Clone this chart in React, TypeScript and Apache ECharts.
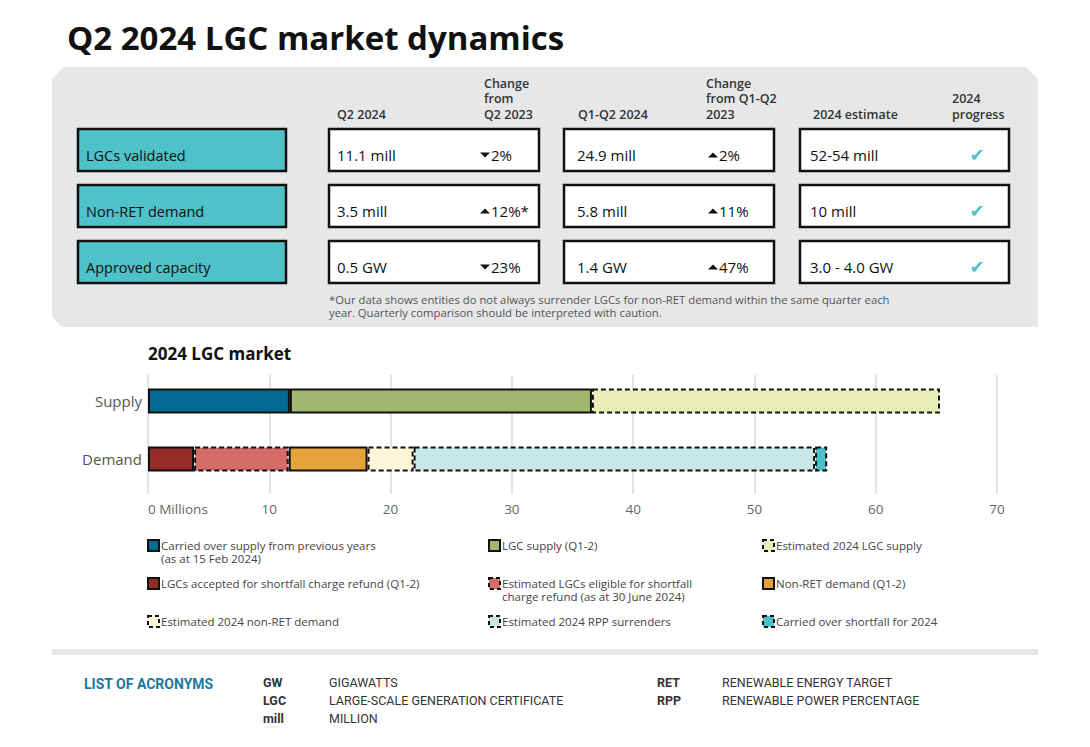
import React, { useEffect, useRef } from "react";
import * as echarts from "echarts";

// ---------- Data ----------
const categories = ["Supply", "Demand"];
const supplyCarriedOver = [11.7, null];
const supplyQ12 = [24.9, null];
const supplyEstimated = [28.7, null];
const demandShortfallAccepted = [null, 3.8];
const demandShortfallEligible = [null, 7.8];
const demandNonRetQ12 = [null, 6.5];
const demandNonRetEstimated = [null, 3.8];
const demandRppEstimated = [null, 33.1];
const demandCarriedShortfall = [null, 1.0];
const xTicks = [0, 10, 20, 30, 40, 50, 60, 70];

const metricLabels = ["LGCs validated", "Non-RET demand", "Approved capacity"];
const q2Values = ["11.1 mill", "3.5 mill", "0.5 GW"];
const q2ChangeDir = ["down", "up", "down"];
const q2ChangeText = ["2%", "12%*", "23%"];
const h1Values = ["24.9 mill", "5.8 mill", "1.4 GW"];
const h1ChangeDir = ["up", "up", "up"];
const h1ChangeText = ["2%", "11%", "47%"];
const estimates = ["52-54 mill", "10 mill", "3.0 - 4.0 GW"];

const acronymsLeft = [
  ["GW", "GIGAWATTS"],
  ["LGC", "LARGE-SCALE GENERATION CERTIFICATE"],
  ["mill", "MILLION"],
];
const acronymsRight = [
  ["RET", "RENEWABLE ENERGY TARGET"],
  ["RPP", "RENEWABLE POWER PERCENTAGE"],
];

const FONT = "'Open Sans', 'Noto Sans', sans-serif";
const COND = "Roboto, 'Noto Sans', sans-serif";

const seriesDefs = [
  { name: "Carried over supply from previous years\n(as at 15 Feb 2024)", data: supplyCarriedOver, color: "#026a94", dashed: false },
  { name: "LGC supply (Q1-2)", data: supplyQ12, color: "#a0b870", dashed: false },
  { name: "Estimated 2024 LGC supply", data: supplyEstimated, color: "#e9eeb7", dashed: true },
  { name: "LGCs accepted for shortfall charge refund (Q1-2)", data: demandShortfallAccepted, color: "#952d27", dashed: false },
  { name: "Estimated LGCs eligible for shortfall\ncharge refund (as at 30 June 2024)", data: demandShortfallEligible, color: "#d56c67", dashed: true },
  { name: "Non-RET demand (Q1-2)", data: demandNonRetQ12, color: "#e5a23a", dashed: false },
  { name: "Estimated 2024 non-RET demand", data: demandNonRetEstimated, color: "#fff5d9", dashed: true },
  { name: "Estimated 2024 RPP surrenders", data: demandRppEstimated, color: "#c8e7e6", dashed: true },
  { name: "Carried over shortfall for 2024", data: demandCarriedShortfall, color: "#4cc0c8", dashed: true },
];

function txt(x: number, y: number, text: string, o: any = {}) {
  return {
    type: "text",
    x,
    y,
    silent: true,
    style: {
      text,
      fontFamily: o.fontFamily || FONT,
      fontSize: o.fontSize || 12,
      fontWeight: o.fontWeight || "normal",
      fill: o.fill || "#222",
      align: o.align || "left",
      verticalAlign: o.verticalAlign || "middle",
      lineHeight: o.lineHeight,
    },
  };
}

function buildGraphics() {
  const g: any[] = [];
  // title
  g.push(txt(67, 37, "Q2 2024 LGC market dynamics", { fontSize: 33, fontWeight: "bold", fill: "#111" }));
  // panel
  g.push({
    type: "polygon",
    silent: true,
    shape: {
      points: [
        [52, 79], [64, 67], [1026, 67], [1038, 79], [1038, 327], [62, 327], [52, 317],
      ],
    },
    style: { fill: "#e6e7e8" },
  });
  // headers (multi-line headers as single texts, bottom line centred at y=114)
  const hs = { fontSize: 12.5, fontWeight: 600, fill: "#333", lineHeight: 15.5, verticalAlign: "bottom" };
  const hb = 114 + 7.75;
  g.push(txt(337, hb, "Q2 2024", hs));
  g.push(txt(484, hb, "Change\nfrom\nQ2 2023", hs));
  g.push(txt(578, hb, "Q1-Q2 2024", hs));
  g.push(txt(706, hb, "Change\nfrom Q1-Q2\n2023", hs));
  g.push(txt(813, hb, "2024 estimate", hs));
  g.push(txt(952, hb, "2024\nprogress", hs));

  const rowTop = [129, 185, 241];
  const rowH = 42;
  const boxStyle = { fill: "#fff", stroke: "#111", lineWidth: 2.5 };
  const arrow = (x: number, y: number, dir: string) => ({
    type: "polygon",
    silent: true,
    shape: {
      points:
        dir === "down"
          ? [[x, y - 2.5], [x + 10, y - 2.5], [x + 5, y + 2.5]]
          : [[x, y + 2.5], [x + 10, y + 2.5], [x + 5, y - 2.5]],
    },
    style: { fill: "#111" },
  });
  metricLabels.forEach((label, i) => {
    const t = rowTop[i];
    const ty = t + 26;
    g.push({ type: "rect", silent: true, shape: { x: 78, y: t, width: 208, height: rowH }, style: { fill: "#4fc1c9", stroke: "#111", lineWidth: 2.5 } });
    g.push(txt(86, ty, label, { fontSize: 14.5, fill: "#111" }));
    g.push({ type: "rect", silent: true, shape: { x: 329, y: t, width: 210, height: rowH }, style: boxStyle });
    g.push({ type: "rect", silent: true, shape: { x: 564, y: t, width: 210, height: rowH }, style: boxStyle });
    g.push({ type: "rect", silent: true, shape: { x: 800, y: t, width: 209, height: rowH }, style: boxStyle });
    g.push(txt(337, ty, q2Values[i], { fontSize: 15, fill: "#111" }));
    g.push(arrow(480, ty, q2ChangeDir[i]));
    g.push(txt(491, ty, q2ChangeText[i], { fontSize: 15, fill: "#111" }));
    g.push(txt(577, ty, h1Values[i], { fontSize: 15, fill: "#111" }));
    g.push(arrow(708, ty, h1ChangeDir[i]));
    g.push(txt(719, ty, h1ChangeText[i], { fontSize: 15, fill: "#111" }));
    g.push(txt(810, ty, estimates[i], { fontSize: 15, fill: "#111" }));
    g.push(txt(977, ty - 1, "✔", { fontSize: 18, fill: "#4fc1c9", align: "center", fontFamily: "'DejaVu Sans', sans-serif" }));
  });
  g.push(txt(329, 305.5,
    "*Our data shows entities do not always surrender LGCs for non-RET demand within the same quarter each\nyear. Quarterly comparison should be interpreted with caution.",
    { fontSize: 11.3, fill: "#555", lineHeight: 13 }));

  // chart subtitle
  g.push(txt(148, 353, "2024 LGC market", { fontSize: 17, fontWeight: "bold", fill: "#111" }));

  // legend
  const colX = [147, 488, 762];
  const rowY = [546, 584, 622];
  const legendMap = [
    // [seriesIndex, col, row]
    [0, 0, 0], [1, 1, 0], [2, 2, 0],
    [3, 0, 1], [4, 1, 1], [5, 2, 1],
    [6, 0, 2], [7, 1, 2], [8, 2, 2],
  ];
  legendMap.forEach(([si, c, r]) => {
    const s = seriesDefs[si];
    const x = colX[c];
    const y = rowY[r];
    g.push({
      type: "rect",
      silent: true,
      shape: { x: x + 1, y: y - 6, width: 11, height: 11 },
      style: { fill: s.color, stroke: "#111", lineWidth: 2, lineDash: s.dashed ? [4, 3] : null },
    });
    g.push({
      type: "text",
      x: x + 14,
      y: y - 7,
      silent: true,
      style: {
        text: s.name,
        fontFamily: FONT,
        fontSize: 11.5,
        fill: "#444",
        align: "left",
        verticalAlign: "top",
        lineHeight: 13,
      },
    });
  });

  // bottom band
  g.push({ type: "rect", silent: true, shape: { x: 52, y: 649, width: 986, height: 6 }, style: { fill: "#e6e7e8" } });
  g.push(txt(84, 684, "LIST OF ACRONYMS", { fontFamily: COND, fontSize: 14, fontWeight: "bold", fill: "#1b7a9b" }));
  acronymsLeft.forEach(([a, d], i) => {
    g.push(txt(263, 682 + i * 18, a, { fontFamily: COND, fontSize: 12.5, fontWeight: "bold", fill: "#333" }));
    g.push(txt(329, 682 + i * 18, d, { fontFamily: COND, fontSize: 12.5, fill: "#333" }));
  });
  acronymsRight.forEach(([a, d], i) => {
    g.push(txt(657, 682 + i * 18, a, { fontFamily: COND, fontSize: 12.5, fontWeight: "bold", fill: "#333" }));
    g.push(txt(722, 682 + i * 18, d, { fontFamily: COND, fontSize: 12.5, fill: "#333" }));
  });
  return g;
}

export default function App() {
  const ref = useRef<HTMLDivElement>(null);
  useEffect(() => {
    if (!ref.current) return;
    const chart = echarts.init(ref.current, null, { renderer: "svg" });
    const option: any = {
      animation: false,
      backgroundColor: "#fff",
      textStyle: { fontFamily: FONT },
      grid: [
        { left: 148, right: 93, top: 375, height: 119 },
        { left: 148, right: 93, top: 372, height: 116 },
      ],
      xAxis: [
        {
          gridIndex: 0,
          type: "value",
          min: xTicks[0],
          max: xTicks[xTicks.length - 1],
          interval: 10,
          axisLine: { show: false },
          axisTick: { show: false },
          splitLine: { show: true, lineStyle: { color: "#d9d9d9", width: 1.5 } },
          axisLabel: {
            color: "#666",
            fontSize: 13.5,
            margin: 8,
            fontFamily: FONT,
            alignMinLabel: "left",
            formatter: (v: number) => (v === 0 ? "0 Millions" : String(v)),
          },
        },
        {
          gridIndex: 1,
          type: "value",
          min: xTicks[0],
          max: xTicks[xTicks.length - 1],
          show: false,
        },
      ],
      yAxis: [
        { gridIndex: 0, type: "category", data: categories, show: false },
        {
          gridIndex: 1,
          type: "category",
          data: categories,
          inverse: true,
          axisLine: { show: false },
          axisTick: { show: false },
          axisLabel: { color: "#555", fontSize: 15, margin: 6, fontFamily: FONT },
        },
      ],
      series: seriesDefs.map((s) => ({
        name: s.name,
        type: "bar",
        stack: "total",
        xAxisIndex: 1,
        yAxisIndex: 1,
        barWidth: 25,
        data: s.data.map((v) => (v === null ? "-" : v)),
        itemStyle: {
          color: s.color,
          borderColor: "#111",
          borderWidth: 2,
          borderType: s.dashed ? [5, 3] : "solid",
        },
        emphasis: { disabled: true },
      })),
      graphic: { elements: buildGraphics() },
    };
    chart.setOption(option);
    return () => chart.dispose();
  }, []);
  return (
    <div
      ref={ref}
      style={{ position: "absolute", left: 0, top: 0, width: 1090, height: 747 }}
    />
  );
}
